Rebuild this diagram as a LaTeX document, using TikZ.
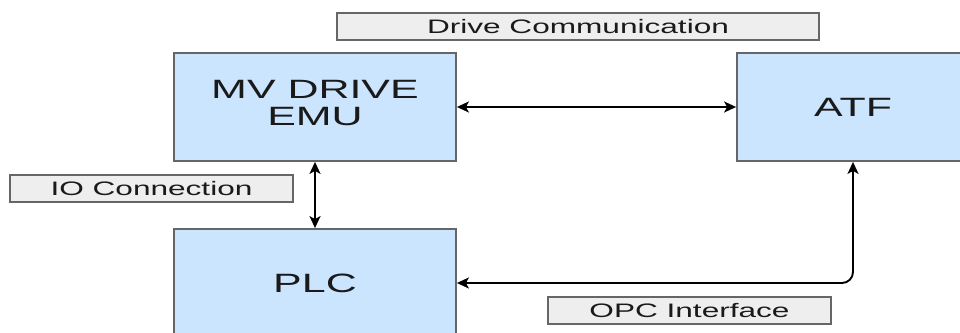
\documentclass[tikz,border=0pt]{standalone}
\usepackage{fontspec}
\usepackage{graphicx}
\setmainfont{Liberation Sans}
\usetikzlibrary{arrows.meta}
% text is set horizontally stretched
\newcommand\wide[1]{\scalebox{1.62}[1]{#1}}
\definecolor{boxfill}{HTML}{CCE5FF}
\definecolor{boxline}{HTML}{666666}
\definecolor{tagfill}{HTML}{EEEEEE}
\definecolor{inktext}{HTML}{1A1A1A}
\tikzset{
  block/.style={draw=boxline, fill=boxfill, line width=1.8pt, inner sep=0pt,
    minimum height=108pt, text=inktext,
    font=\fontsize{26.5}{27}\selectfont},
  tag/.style={draw=boxline, fill=tagfill, line width=1.5pt, inner sep=0pt,
    minimum height=27pt, text=inktext,
    font=\fontsize{19.5}{21}\selectfont},
  link/.style={line width=1.9pt, black,
    {Stealth[length=12pt,width=11pt,inset=3pt]}-{Stealth[length=12pt,width=11pt,inset=3pt]}}
}
\begin{document}
\begin{tikzpicture}[x=1pt,y=1pt]
  \useasboundingbox (0,0) rectangle (960,332);
  \clip (0,0) rectangle (960,332);
  \fill[white] (0,0) rectangle (960,332);

  % main blocks
  \node[block, minimum width=282pt] (emu) at (315,225)
    {\wide{\begin{tabular}{@{}c@{}}MV DRIVE\\EMU\end{tabular}}};
  \node[block, minimum width=232pt] (atf) at (853,225) {\wide{ATF}};
  \node[block, minimum width=282pt] (plc) at (315,49) {\wide{PLC}};

  % connection labels
  \node[tag, minimum width=482pt] (drivecomm) at (578,305.5) {\wide{Drive Communication}};
  \node[tag, minimum width=283pt] (ioconn) at (151.5,143.5) {\wide{IO Connection}};
  \node[tag, minimum width=283pt] (opc) at (689.5,21.5) {\wide{OPC Interface}};

  % links
  \draw[link] (emu.east) -- (atf.west);
  \draw[link] (emu.south) -- (plc.north);
  \draw[link, rounded corners=11pt] (atf.south) |- (plc.east);
\end{tikzpicture}
\end{document}
